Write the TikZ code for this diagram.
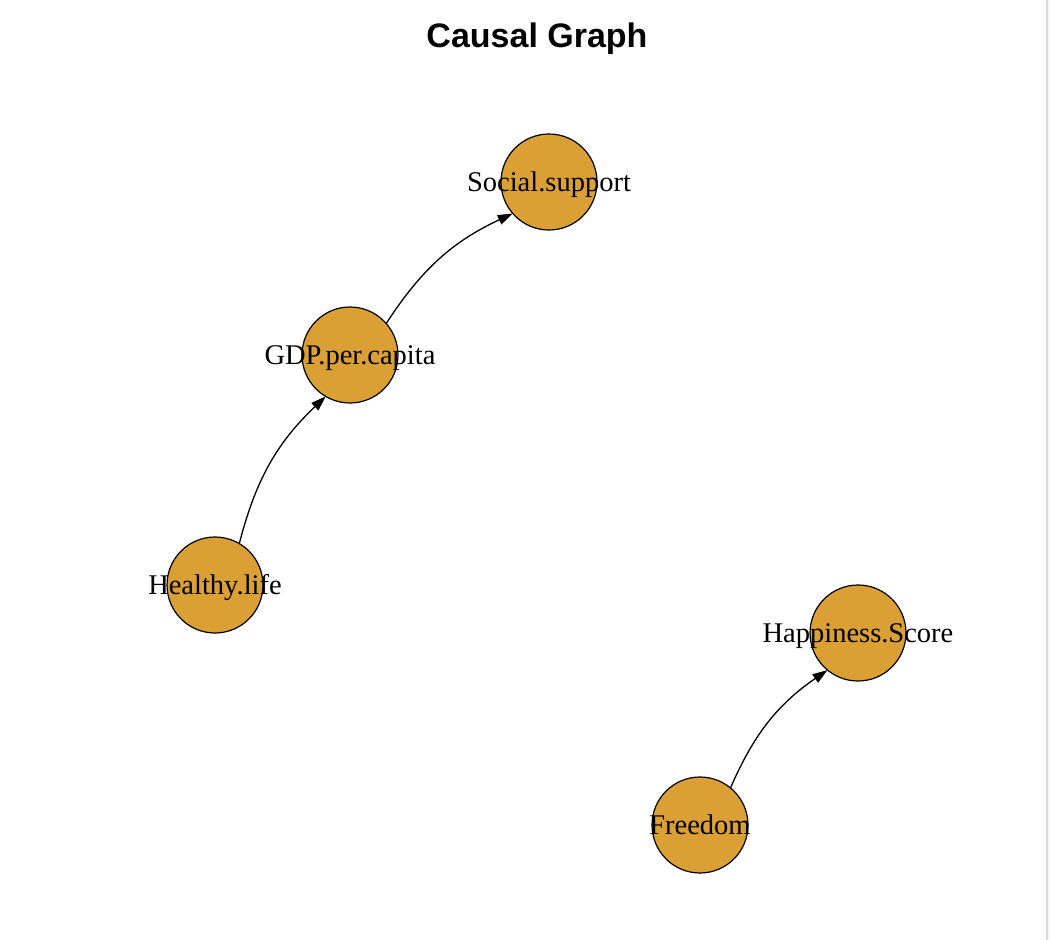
\documentclass[tikz,border=0pt]{standalone}
\usepackage{fontspec}
\setmainfont{Liberation Serif}
\newfontfamily\titlefont{Liberation Sans}
\usetikzlibrary{arrows.meta,calc}
\definecolor{vfill}{HTML}{DAA036}
\definecolor{edgegray}{HTML}{DCDCE0}
\definecolor{sidegray}{HTML}{F6F6F8}
\tikzset{
  vtx/.style={circle, draw=black, line width=1.2pt, fill=vfill, minimum size=96pt, inner sep=0pt},
  lbl/.style={anchor=base, font=\fontsize{28.5pt}{30pt}\selectfont, inner sep=0pt},
  edge/.style={line width=1.3pt, -{Triangle[length=15pt,width=10pt]}},
}
\begin{document}
\begin{tikzpicture}[x=1pt,y=-1pt]
\useasboundingbox (0,0) rectangle (1050,940);
\fill[sidegray] (1047,0) rectangle (1050,940);
\draw[edgegray, line width=1.5pt] (1047,0) -- (1047,940);
\node[anchor=base, font=\titlefont\bfseries\fontsize{34pt}{36pt}\selectfont, inner sep=0pt] (title) at (537,47) {Causal Graph};
\node[vtx] (ss) at (549,182) {};
\node[vtx] (gdp) at (350,355) {};
\node[vtx] (hl) at (215,585) {};
\node[vtx] (hs) at (858,633) {};
\node[vtx] (fr) at (700,825) {};
\coordinate (e1s) at ($(gdp.center)!48pt!(ss.center)$);
\coordinate (e1t) at ($(ss.center)!48pt!(gdp.center)$);
\coordinate (e2s) at ($(hl.center)!48pt!(gdp.center)$);
\coordinate (e2t) at ($(gdp.center)!48pt!(hl.center)$);
\coordinate (e3s) at ($(fr.center)!48pt!(hs.center)$);
\coordinate (e3t) at ($(hs.center)!48pt!(fr.center)$);
\draw[edge] (e1s) to[bend left=16] (e1t);
\draw[edge] (e2s) to[bend left=16] (e2t);
\draw[edge] (e3s) to[bend left=16] (e3t);
\node[lbl] (ss-t) at (549,191) {Social.support};
\node[lbl] (gdp-t) at (350,364) {GDP.per.capita};
\node[lbl] (hl-t) at (215,594) {Healthy.life};
\node[lbl] (hs-t) at (858,642) {Happiness.Score};
\node[lbl] (fr-t) at (700,834) {Freedom};
\end{tikzpicture}
\end{document}
